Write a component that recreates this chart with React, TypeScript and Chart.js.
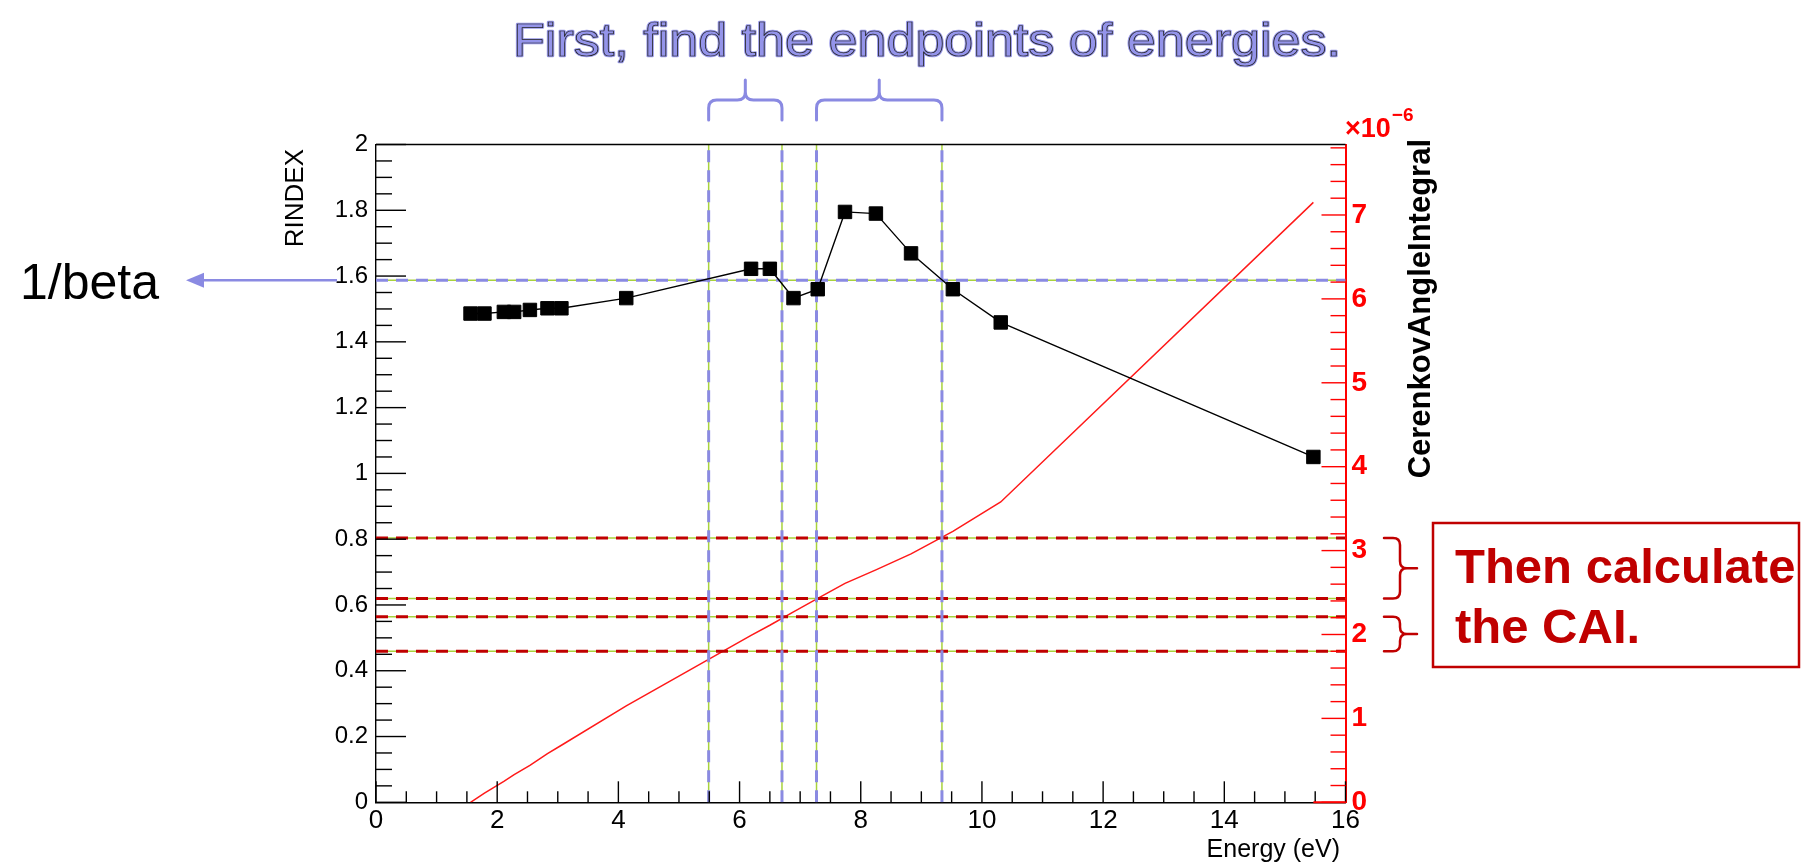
import React, { useEffect, useRef } from "react";
import { Chart, registerables } from "chart.js";

Chart.register(...registerables);

// ---------------- data ----------------
const energies = [1.56, 1.79, 2.11, 2.28, 2.54, 2.83, 3.06, 4.13, 6.19, 6.5, 6.89, 7.29, 7.74, 8.25, 8.83, 9.52, 10.31, 15.47];
const rindexValues = [1.486, 1.486, 1.491, 1.491, 1.497, 1.502, 1.502, 1.533, 1.622, 1.622, 1.533, 1.56, 1.795, 1.79, 1.669, 1.56, 1.459, 1.05];
// CerenkovAngleIntegral in units of 1e-6
const caiValues = [0, 0.11, 0.25, 0.33, 0.44, 0.58, 0.68, 1.15, 1.99, 2.11, 2.27, 2.43, 2.61, 2.77, 2.96, 3.23, 3.58, 7.15];
const inverseBeta = 1.587;
const endpointEnergies = [5.49, 6.7, 7.27, 9.34];
const caiLevels = [3.15, 2.43, 2.21, 1.8];

const xTickValues = [0, 2, 4, 6, 8, 10, 12, 14, 16];
const xTickLabels = ["0", "2", "4", "6", "8", "10", "12", "14", "16"];
const yTickValues = [0, 0.2, 0.4, 0.6, 0.8, 1, 1.2, 1.4, 1.6, 1.8, 2];
const yTickLabels = ["0", "0.2", "0.4", "0.6", "0.8", "1", "1.2", "1.4", "1.6", "1.8", "2"];
const y1TickValues = [0, 1, 2, 3, 4, 5, 6, 7];
const y1TickLabels = ["0", "1", "2", "3", "4", "5", "6", "7"];

const xRange = [0, 16];
const yRange = [0, 2];
const y1Range = [0, 7.84];

const titleText = "First, find the endpoints of energies.";
const xTitle = "Energy (eV)";
const yTitle = "RINDEX";
const y1Title = "CerenkovAngleIntegral";
const betaLabel = "1/beta";
const boxLines = ["Then calculate", "the CAI."];

// ---------------- style ----------------
const BLUE = "#8a8ae2";
const YG = "#a8d23c";
const DARKRED = "#c00000";
const RED = "#ff1a1a";
const FONT = "'Liberation Sans', Arial, Helvetica, sans-serif";

const W = 1801;
const H = 863;
const PLOT_LEFT = 376;
const PLOT_RIGHT = 1345.5;
const PLOT_TOP = 144.5;
const PLOT_BOTTOM = 802.3;

function brace(ctx: CanvasRenderingContext2D, a: number, b: number, end: number, bar: number, tip: number, horizontal: boolean, r: number) {
  const m = (a + b) / 2;
  const s = Math.sign(bar - end) || 1;
  const P = (u: number, v: number): [number, number] => (horizontal ? [u, v] : [v, u]);
  ctx.beginPath();
  ctx.moveTo(...P(a, end));
  ctx.lineTo(...P(a, bar - s * r));
  ctx.quadraticCurveTo(...P(a, bar), ...P(a + r, bar));
  ctx.lineTo(...P(m - r, bar));
  ctx.quadraticCurveTo(...P(m, bar), ...P(m, bar + s * r));
  ctx.lineTo(...P(m, tip));
  ctx.moveTo(...P(m, bar + s * r));
  ctx.quadraticCurveTo(...P(m, bar), ...P(m + r, bar));
  ctx.lineTo(...P(b - r, bar));
  ctx.quadraticCurveTo(...P(b, bar), ...P(b, bar - s * r));
  ctx.lineTo(...P(b, end));
  ctx.stroke();
}

const overlayPlugin = {
  id: "overlay",
  afterDraw(chart: any) {
    const ctx: CanvasRenderingContext2D = chart.ctx;
    const ca = chart.chartArea;
    const xs = chart.scales.x;
    const ys = chart.scales.y;
    const y1s = chart.scales.y1;
    ctx.save();

    // top frame
    ctx.strokeStyle = "#000";
    ctx.lineWidth = 1.4;
    ctx.beginPath();
    ctx.moveTo(ca.left, ca.top);
    ctx.lineTo(ca.right, ca.top);
    ctx.stroke();

    // x ticks (inward)
    for (let i = 0; i <= 32; i++) {
      const v = xRange[0] + i * 0.5;
      const px = xs.getPixelForValue(v);
      const len = i % 4 === 0 ? 21 : 11;
      ctx.beginPath();
      ctx.moveTo(px, ca.bottom);
      ctx.lineTo(px, ca.bottom - len);
      ctx.stroke();
    }
    // left y ticks
    for (let i = 0; i <= 40; i++) {
      const v = yRange[0] + i * 0.05;
      const py = ys.getPixelForValue(v);
      const len = i % 4 === 0 ? 30 : 16;
      ctx.beginPath();
      ctx.moveTo(ca.left, py);
      ctx.lineTo(ca.left + len, py);
      ctx.stroke();
    }
    // right y ticks (red)
    ctx.strokeStyle = "#ff0000";
    for (let i = 0; i * 0.2 <= y1Range[1] + 1e-9; i++) {
      const v = i * 0.2;
      const py = y1s.getPixelForValue(v);
      const len = i % 5 === 0 ? 24 : 15;
      ctx.beginPath();
      ctx.moveTo(ca.right, py);
      ctx.lineTo(ca.right - len, py);
      ctx.stroke();
    }
    // small red piece of the bottom frame after the last energy
    ctx.lineWidth = 2;
    ctx.beginPath();
    ctx.moveTo(xs.getPixelForValue(energies[energies.length - 1]), ca.bottom);
    ctx.lineTo(ca.right, ca.bottom);
    ctx.stroke();

    // x10^-6
    ctx.fillStyle = "#ff0000";
    ctx.font = `bold 27px ${FONT}`;
    ctx.textAlign = "left";
    ctx.textBaseline = "alphabetic";
    ctx.fillText("\u00d710", 1345, 137);
    const w10 = ctx.measureText("\u00d710").width;
    ctx.font = `bold 19px ${FONT}`;
    ctx.fillText("\u22126", 1345 + w10 + 1, 121);

    // axis titles
    ctx.fillStyle = "#000";
    ctx.font = `26px ${FONT}`;
    ctx.save();
    ctx.translate(296, 149);
    ctx.rotate(-Math.PI / 2);
    ctx.textAlign = "right";
    ctx.textBaseline = "middle";
    ctx.fillText(yTitle, 0, 0);
    ctx.restore();

    ctx.font = `bold 31px ${FONT}`;
    ctx.save();
    ctx.translate(1421, 139);
    ctx.rotate(-Math.PI / 2);
    ctx.textAlign = "right";
    ctx.textBaseline = "middle";
    ctx.fillText(y1Title, 0, 0);
    ctx.restore();

    ctx.font = `25px ${FONT}`;
    ctx.textAlign = "right";
    ctx.textBaseline = "alphabetic";
    ctx.fillText(xTitle, 1340, 857);

    // main annotation title (stretched horizontally)
    ctx.save();
    ctx.font = `46px ${FONT}`;
    const tw = ctx.measureText(titleText).width;
    const sx = 828 / tw;
    ctx.translate(927, 56);
    ctx.scale(sx, 1);
    ctx.textAlign = "center";
    ctx.lineJoin = "round";
    ctx.strokeStyle = "#9a9aea";
    ctx.lineWidth = 2.5;
    ctx.strokeText(titleText, 0, 0);
    ctx.fillStyle = "#9494ea";
    ctx.fillText(titleText, 0, 0);
    ctx.strokeStyle = "#222";
    ctx.lineWidth = 0.7;
    ctx.strokeText(titleText, 0, 0);
    ctx.restore();

    // blue braces above the energy intervals
    ctx.strokeStyle = BLUE;
    ctx.lineWidth = 3;
    ctx.lineCap = "round";
    const e = endpointEnergies.map((v) => xs.getPixelForValue(v));
    brace(ctx, e[0], e[1], 120, 100, 80, true, 8);
    brace(ctx, e[2], e[3], 120, 100, 80, true, 8);

    // 1/beta arrow
    const by = ys.getPixelForValue(inverseBeta);
    ctx.lineCap = "butt";
    ctx.lineWidth = 2.5;
    ctx.beginPath();
    ctx.moveTo(337, by);
    ctx.lineTo(200, by);
    ctx.stroke();
    ctx.fillStyle = BLUE;
    ctx.beginPath();
    ctx.moveTo(186, by);
    ctx.lineTo(204, by - 7.5);
    ctx.lineTo(204, by + 7.5);
    ctx.closePath();
    ctx.fill();
    ctx.fillStyle = "#000";
    ctx.font = `50px ${FONT}`;
    ctx.textAlign = "left";
    ctx.fillText(betaLabel, 20, by + 19);

    // red braces on the right
    ctx.strokeStyle = DARKRED;
    ctx.lineWidth = 2.5;
    ctx.lineCap = "round";
    const c = caiLevels.map((v) => y1s.getPixelForValue(v));
    brace(ctx, c[0], c[1], 1384, 1400, 1417, false, 7);
    brace(ctx, c[2], c[3], 1384, 1400, 1417, false, 7);

    // red box with text
    ctx.lineCap = "butt";
    ctx.lineWidth = 2.5;
    ctx.strokeRect(1433, 523, 366, 144);
    ctx.fillStyle = DARKRED;
    ctx.font = `bold 49px ${FONT}`;
    ctx.textAlign = "left";
    ctx.fillText(boxLines[0], 1455, 583);
    ctx.fillText(boxLines[1], 1455, 643);

    ctx.restore();
  },
};

function hLine(yv: number, axis: string, color: string, width: number, order: number, dash: number[] = []) {
  return {
    data: [{ x: xRange[0], y: yv }, { x: xRange[1], y: yv }],
    yAxisID: axis,
    borderColor: color,
    borderWidth: width,
    borderDash: dash,
    pointRadius: 0,
    fill: false,
    order,
  };
}
function vLine(xv: number, color: string, width: number, order: number, dash: number[] = []) {
  return {
    data: [{ x: xv, y: yRange[0] }, { x: xv, y: yRange[1] }],
    yAxisID: "y",
    borderColor: color,
    borderWidth: width,
    borderDash: dash,
    pointRadius: 0,
    fill: false,
    order,
  };
}

export default function App() {
  const ref = useRef<HTMLCanvasElement>(null);
  useEffect(() => {
    const datasets: any[] = [
      {
        data: energies.map((x, i) => ({ x, y: rindexValues[i] })),
        yAxisID: "y",
        borderColor: "#000",
        borderWidth: 1.4,
        pointStyle: "rect",
        pointRadius: 9.5,
        pointBackgroundColor: "#000",
        pointBorderColor: "#000",
        pointBorderWidth: 1,
        fill: false,
        order: 0,
      },
      ...endpointEnergies.map((v) => vLine(v, BLUE, 3, 1, [12, 8])),
      hLine(inverseBeta, "y", BLUE, 3, 2, [12, 8]),
      ...caiLevels.map((v) => hLine(v, "y1", DARKRED, 3, 3, [12, 8])),
      ...endpointEnergies.map((v) => vLine(v, YG, 1.5, 4)),
      hLine(inverseBeta, "y", YG, 1.5, 4),
      ...caiLevels.map((v) => hLine(v, "y1", YG, 1.5, 4)),
      {
        data: energies.map((x, i) => ({ x, y: caiValues[i] })),
        yAxisID: "y1",
        borderColor: RED,
        borderWidth: 1.5,
        pointRadius: 0,
        fill: false,
        order: 5,
      },
    ];

    const chart = new Chart(ref.current as HTMLCanvasElement, {
      type: "line",
      data: { datasets },
      options: {
        animation: false,
        responsive: false,
        devicePixelRatio: 1,
        layout: { padding: { top: PLOT_TOP, left: 0, right: 0, bottom: 0 } },
        plugins: { legend: { display: false }, tooltip: { enabled: false } },
        elements: { line: { tension: 0 } },
        scales: {
          x: {
            type: "linear",
            position: "bottom",
            min: xRange[0],
            max: xRange[1],
            afterBuildTicks: (axis: any) => {
              axis.ticks = xTickValues.map((value) => ({ value }));
            },
            afterFit: (s: any) => {
              s.height = H - PLOT_BOTTOM;
            },
            ticks: {
              autoSkip: false,
              maxRotation: 0,
              padding: 3,
              color: "#000",
              font: { family: FONT, size: 26 },
              callback: (_v: any, i: number) => xTickLabels[i],
            },
            grid: { display: false, drawTicks: false },
            border: { display: true, color: "#000", width: 1.4 },
          },
          y: {
            type: "linear",
            position: "left",
            min: yRange[0],
            max: yRange[1],
            afterBuildTicks: (axis: any) => {
              axis.ticks = yTickValues.map((value) => ({ value }));
            },
            afterFit: (s: any) => {
              s.width = PLOT_LEFT;
            },
            ticks: {
              padding: 8,
              color: "#000",
              font: { family: FONT, size: 24 },
              callback: (_v: any, i: number) => yTickLabels[i],
            },
            grid: { display: false, drawTicks: false },
            border: { display: true, color: "#000", width: 1.4 },
          },
          y1: {
            type: "linear",
            position: "right",
            min: y1Range[0],
            max: y1Range[1],
            afterBuildTicks: (axis: any) => {
              axis.ticks = y1TickValues.map((value) => ({ value }));
            },
            afterFit: (s: any) => {
              s.width = W - PLOT_RIGHT;
            },
            ticks: {
              padding: 6,
              color: "#ff0000",
              font: { family: FONT, size: 28, weight: "bold" },
              callback: (_v: any, i: number) => y1TickLabels[i],
            },
            grid: { display: false, drawTicks: false },
            border: { display: true, color: "#ff0000", width: 2 },
          },
        },
      },
      plugins: [overlayPlugin],
    } as any);
    return () => chart.destroy();
  }, []);

  return (
    <div style={{ position: "fixed", left: 0, top: 0, width: W, height: H, background: "#fff" }}>
      <canvas ref={ref} width={W} height={H} style={{ display: "block", width: W, height: H }} />
    </div>
  );
}
